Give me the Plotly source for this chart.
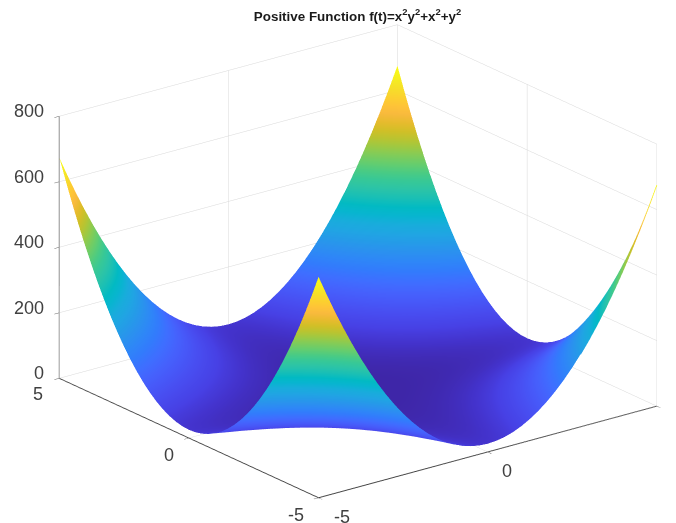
import numpy as np
import plotly.graph_objects as go

title_text = "Positive Function f(t)=x<sup>2</sup>y<sup>2</sup>+x<sup>2</sup>+y<sup>2</sup>"
abs_coord = [0, .25, .5, .75, 1, 1.25, 1.5, 1.75, 2, 2.25, 2.5, 2.75, 3, 3.25, 3.5, 3.75, 4, 4.25, 4.5, 4.75, 5]
# upper triangle of one quadrant of the surface heights: row i starts at column i of abs_coord
quadrant_upper = [
    [0, .06, .25, .56, 1, 1.56, 2.25, 3.06, 4, 5.06, 6.25, 7.56, 9, 10.56, 12.25, 14.06, 16, 18.06, 20.25, 22.56, 25],
    [.13, .33, .66, 1.13, 1.72, 2.45, 3.32, 4.31, 5.44, 6.70, 8.10, 9.63, 11.29, 13.08, 15.00, 17.06, 19.25, 21.58, 24.04, 26.63],
    [.56, .95, 1.5, 2.20, 3.06, 4.08, 5.25, 6.58, 8.06, 9.70, 11.5, 13.45, 15.56, 17.83, 20.25, 22.83, 25.56, 28.45, 31.5],
    [1.44, 2.13, 3.00, 4.08, 5.35, 6.81, 8.47, 10.33, 12.38, 14.63, 17.07, 19.70, 22.54, 25.56, 28.79, 32.20, 35.82, 39.63],
    [3, 4.13, 5.5, 7.13, 9, 11.13, 13.5, 16.13, 19, 22.13, 25.5, 29.13, 33, 37.13, 41.5, 46.13, 51],
    [5.57, 7.33, 9.41, 11.81, 14.54, 17.58, 20.94, 24.63, 28.63, 32.95, 37.60, 42.56, 47.85, 53.45, 59.38, 65.63],
    [9.56, 12.20, 15.25, 18.70, 22.56, 26.83, 31.5, 36.58, 42.06, 47.95, 54.25, 60.95, 68.06, 75.58, 83.5],
    [15.50, 19.31, 23.63, 28.45, 33.79, 39.63, 45.97, 52.83, 60.19, 68.06, 76.44, 85.33, 94.72, 104.63],
    [24, 29.31, 35.25, 41.81, 49, 56.81, 65.25, 74.31, 84, 94.31, 105.25, 116.81, 129],
    [35.75, 42.95, 50.91, 59.63, 69.10, 79.33, 90.32, 102.06, 114.57, 127.83, 141.85, 156.63],
    [51.56, 61.08, 71.5, 82.83, 95.06, 108.20, 122.25, 137.20, 153.06, 169.83, 187.5],
    [72.32, 84.63, 98.00, 112.45, 127.97, 144.56, 162.22, 180.95, 200.75, 221.63],
    [99, 114.63, 131.5, 149.63, 169, 189.63, 211.5, 234.63, 259],
    [132.69, 152.20, 173.16, 195.56, 219.41, 244.70, 271.44, 299.63],
    [174.56, 198.58, 224.25, 251.58, 280.56, 311.20, 343.5],
    [225.88, 255.06, 286.13, 319.08, 353.91, 390.63],
    [288, 323.06, 360.25, 399.56, 441],
    [362.38, 404.08, 448.16, 494.63],
    [450.56, 499.70, 551.5],
    [554.19, 611.63],
    [675],
]
xy_ticks = [-5, 0, 5]
xy_labels = ["-5", "0", "5"]
z_ticks = [0, 200, 400, 600, 800]
z_labels = ["0", "200", "400", "600", "800"]

parula_rgb = [
    (.2422, .1504, .6603), (.2647, .1978, .7952), (.2783, .2559, .8991), (.2813, .3006, .9414),
    (.2795, .3447, .9717), (.2699, .3892, .9906), (.2440, .4358, .9988), (.1963, .4847, .9892),
    (.1786, .5289, .9682), (.1687, .5703, .9359), (.1460, .6091, .9079), (.1248, .6459, .8883),
    (.0952, .6798, .8598), (.0297, .7082, .8163), (.0067, .7312, .7660), (.0964, .7500, .7120),
    (.1717, .7670, .6554), (.2161, .7843, .5923), (.2906, .7973, .5188), (.3909, .8029, .4354),
    (.5044, .7993, .3480), (.6174, .7876, .2612), (.7242, .7698, .1910), (.8203, .7498, .1535),
    (.9035, .7330, .1774), (.9728, .7298, .2394), (.9970, .7659, .2199), (.9892, .8136, .1885),
    (.9676, .8639, .1643), (.9597, .9135, .1423), (.9691, .9606, .1064), (.9769, .9839, .0805),
]
parula = [[i / (len(parula_rgb) - 1), "rgb(%d,%d,%d)" % tuple(round(v * 255) for v in c)]
          for i, c in enumerate(parula_rgb)]

n = len(abs_coord)
q = np.zeros((n, n))
for i, row in enumerate(quadrant_upper):
    q[i, i:] = row
    q[i:, i] = row
a = np.array(abs_coord)
coords = np.concatenate([-a[:0:-1], a])
z = np.vstack([q[:0:-1], q])
z = np.hstack([z[:, :0:-1], z])

LABEL_FONT = dict(family="Liberation Sans, Arial, sans-serif", size=18, color="#404040")

axis_common = dict(
    showbackground=False, showgrid=True, gridcolor="#d8d8d8", gridwidth=1,
    showline=True, ticks="outside", ticklen=6, showticklabels=False,
    zeroline=False, title=dict(text=""), showspikes=False,
)

direction = np.array([-0.569, -0.742, 0.353])
right = np.array([0.793, -0.609, 0.0])
up = np.array([0.215, 0.28, 0.935])
center = -right * 0.0459 - up * 0.0317
eye = center + direction * 1.55

annotations = []
for val, txt, xs, ys in zip(xy_ticks, xy_labels, (-23, -20, -21), (-17, -17, -16)):
    annotations.append(dict(x=-5, y=val, z=0, text=txt, showarrow=False, font=LABEL_FONT,
                            xanchor="center", yanchor="middle", xshift=xs, yshift=ys))
for val, txt, xs, ys in zip(xy_ticks[:2], xy_labels[:2], (23, 19), (-19.5, -19)):
    annotations.append(dict(x=val, y=-5, z=0, text=txt, showarrow=False, font=LABEL_FONT,
                            xanchor="center", yanchor="middle", xshift=xs, yshift=ys))
for val, txt in zip(z_ticks, z_labels):
    annotations.append(dict(x=-5, y=5, z=val, text=txt, showarrow=False, font=LABEL_FONT,
                            xanchor="right", yanchor="middle", xshift=-13, yshift=5))

fig = go.Figure(go.Surface(
    x=coords, y=coords, z=z, colorscale=parula, cmin=0, cmax=675, showscale=False,
    lighting=dict(ambient=1, diffuse=0, specular=0, fresnel=0, roughness=1),
    hoverinfo="skip",
))
# the surface turns edge-on near the right-hand tip, so its two edges there are also stroked
tip = len(coords) // 4
edge_x = np.concatenate([coords[-tip:], np.full(tip, coords[-1])])
edge_y = np.concatenate([np.full(tip, coords[0]), coords[:tip]])
edge_z = np.concatenate([z[0, -tip:], z[:tip, -1]])
fig.add_trace(go.Scatter3d(
    x=edge_x, y=edge_y, z=edge_z, mode="lines", hoverinfo="skip", showlegend=False,
    line=dict(width=1.5, color=edge_z, colorscale=parula, cmin=0, cmax=675),
))
fig.update_layout(
    width=676, height=523, paper_bgcolor="white", margin=dict(l=0, r=0, t=0, b=0),
    title=dict(text=title_text, x=0.517, xanchor="center", y=0.984, yanchor="middle",
               font=dict(family="Liberation Sans, Arial, sans-serif", size=13.4, color="#1a1a1a", weight="bold")),
    annotations=[dict(xref="paper", yref="paper", x=1, y=1 - 425 / 523, text=xy_labels[2],
                      showarrow=False, font=LABEL_FONT, xanchor="right", yanchor="middle")],
    scene=dict(
        domain=dict(x=[0, 1], y=[0, 1]),
        xaxis=dict(range=[-5, 5], tickvals=xy_ticks, linecolor="#444444", linewidth=2, tickcolor="#444444", **axis_common),
        yaxis=dict(range=[-5, 5], tickvals=xy_ticks, linecolor="#444444", linewidth=2, tickcolor="#444444", **axis_common),
        zaxis=dict(range=[0, 800], tickvals=z_ticks, linecolor="#808080", linewidth=2, tickcolor="#666666", **axis_common),
        aspectmode="manual", aspectratio=dict(x=1.63, y=1.63, z=1.071),
        camera=dict(
            projection=dict(type="orthographic"),
            eye=dict(x=float(eye[0]), y=float(eye[1]), z=float(eye[2])),
            center=dict(x=float(center[0]), y=float(center[1]), z=float(center[2])),
            up=dict(x=0, y=0, z=1),
        ),
        annotations=annotations,
    ),
)
fig.write_html("out.html")
